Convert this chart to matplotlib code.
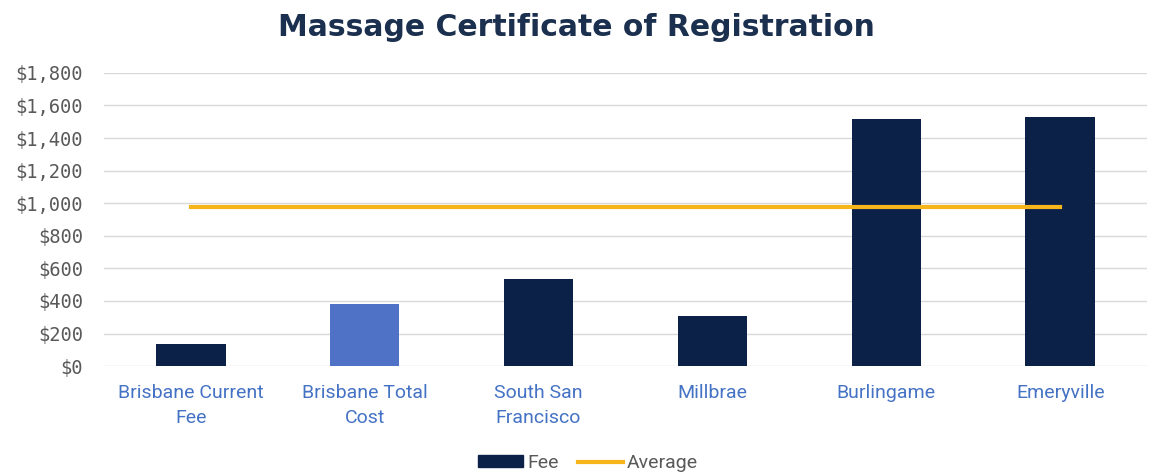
import numpy as np
import matplotlib.pyplot as plt
from matplotlib.ticker import FuncFormatter
from matplotlib.patches import Patch
from matplotlib.lines import Line2D

# chart data
cities = ["Brisbane Current\nFee", "Brisbane Total\nCost", "South San\nFrancisco",
          "Millbrae", "Burlingame", "Emeryville"]
fees = [135, 380, 535, 305, 1515, 1530]
average = [975, 975, 975, 975, 975, 975]
yticks = [0, 200, 400, 600, 800, 1000, 1200, 1400, 1600, 1800]

navy = "#0b2148"
light = "#4f72c6"
orange = "#f7b51c"

fig = plt.figure(figsize=(11.53, 4.73), dpi=100)
ax = fig.add_axes([0.09, 0.226, 0.905, 0.62])

x = np.arange(len(cities))
colors = [navy, light, navy, navy, navy, navy]
ax.bar(x, fees, width=0.4, color=colors, label="Fee", zorder=2)
ax.plot(x, average, color=orange, lw=3, label="Average", zorder=3)

ax.set_xlim(-0.5, len(cities) - 0.5)
ax.set_ylim(0, 1800)
ax.set_yticks(yticks)
ax.yaxis.set_major_formatter(FuncFormatter(lambda v, p: "${:,.0f}".format(v)))
ax.grid(axis="y", color="#d9d9d9", lw=1, zorder=0)
for s in ax.spines.values():
    s.set_visible(False)
ax.tick_params(length=0)
ax.tick_params(axis="y", pad=15, labelsize=13.5, labelcolor="#595959")
for t in ax.get_yticklabels():
    t.set_family("DejaVu Sans Mono")

ax.set_xticks(x)
ax.set_xticklabels(cities, fontsize=14, color="#4472c4", family="Roboto", linespacing=1.5)
ax.tick_params(axis="x", pad=13)

fig.suptitle("Massage Certificate of Registration", x=0.5, y=0.972,
             fontsize=21.5, fontweight="bold", color="#1b2f4f", family="DejaVu Sans")

handles = [Patch(color=navy, label="Fee"), Line2D([], [], color=orange, lw=3, label="Average")]
leg = fig.legend(handles=handles, loc="lower center", bbox_to_anchor=(0.51, -0.035), ncol=2,
                 frameon=False, fontsize=14, handlelength=2.3, handleheight=0.55,
                 handletextpad=0.2, columnspacing=1.0, labelcolor="#595959")
for t in leg.get_texts():
    t.set_family("Roboto")

fig.savefig("out.png", dpi=100)
